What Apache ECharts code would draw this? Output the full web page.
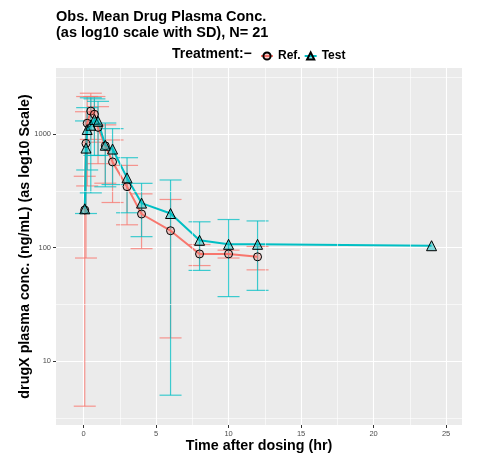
<!DOCTYPE html>
<html>
<head>
<meta charset="utf-8">
<script src="https://cdn.jsdelivr.net/npm/echarts@6/dist/echarts.min.js"></script>
<style>
  html, body { margin: 0; padding: 0; background: #fff; }
  #main { width: 488px; height: 462px; }
</style>
</head>
<body>
<div id="main"></div>
<script>
// sampling times (hr)
const times = [0.083, 0.167, 0.25, 0.5, 0.75, 1, 1.5, 2, 3, 4, 6, 8, 10, 12, 24];
// Ref. mean / SD (ng/mL)
const refMean = [215, 830, 1250, 1600, 1500, 1150, 790, 570, 345, 198, 141, 88, 88, 83, null];
const refSD = [211, 749, 900, 700, 650, 600, 420, 320, 186, 100, 125, 18.5, 7, 19.3, null];
// Test mean / SD (ng/mL)
const testMean = [220, 755, 1100, 1200, 1350, 1300, 800, 740, 412, 247, 200, 116, 107, 107, 104];
const testSD = [null, 555, 616, 896, 700, 650, 456, 380, 209, 122, 195, 53, 70, 65, null];

const xTicks = [0, 5, 10, 15, 20, 25];
const yTicks = [10, 100, 1000];
const xMinor = [2.5, 7.5, 12.5, 17.5, 22.5];
const yMinor = [3.162, 31.62, 316.2, 3162];

const FONT = "'Liberation Sans', Arial, sans-serif";
const RED = '#F8766D';
const TEAL = '#00BFC4';

function points(mean) {
  return times.map((t, i) => (mean[i] == null ? null : [t, mean[i]])).filter(Boolean);
}
// mean +/- SD, rows with a non-positive lower end are dropped (log scale)
function bars(mean, sd) {
  return times
    .map((t, i) => (mean[i] == null || sd[i] == null || mean[i] - sd[i] <= 0 ? null : [t, mean[i] - sd[i], mean[i] + sd[i]]))
    .filter(Boolean);
}
function errRender(color) {
  return function (params, api) {
    const hi = api.coord([api.value(0), api.value(2)]);
    const lo = api.coord([api.value(0), api.value(1)]);
    const w = 11;
    const style = { stroke: color, lineWidth: 1.2, opacity: 0.75 };
    return {
      type: 'group',
      children: [
        { type: 'line', shape: { x1: hi[0], y1: hi[1], x2: lo[0], y2: lo[1] }, style: style },
        { type: 'line', shape: { x1: hi[0] - w, y1: hi[1], x2: hi[0] + w, y2: hi[1] }, style: style },
        { type: 'line', shape: { x1: lo[0] - w, y1: lo[1], x2: lo[0] + w, y2: lo[1] }, style: style }
      ]
    };
  };
}

const chart = echarts.init(document.getElementById('main'));

const option = {
  animation: false,
  textStyle: { fontFamily: FONT },
  title: {
    text: 'Obs. Mean Drug Plasma Conc.\n(as log10 scale with SD), N= 21',
    left: 51,
    top: 4,
    textStyle: { fontSize: 14.5, fontWeight: 'bold', lineHeight: 16, color: '#000', fontFamily: FONT }
  },
  graphic: [
    {
      type: 'text',
      left: 172,
      top: 47,
      style: { text: 'Treatment:\u2212', font: 'bold 14px ' + FONT, fill: '#000' }
    }
  ],
  legend: {
    data: ['Ref.', 'Test'],
    left: 255,
    top: 45,
    itemWidth: 12,
    itemHeight: 9,
    itemGap: 3,
    textStyle: { fontSize: 12, fontWeight: 'bold', color: '#000', fontFamily: FONT }
  },
  grid: {
    left: 56,
    right: 26,
    top: 68,
    bottom: 37,
    show: true,
    backgroundColor: '#EBEBEB',
    borderWidth: 0
  },
  xAxis: {
    type: 'value',
    min: -1.9,
    max: 26.1,
    axisLine: { show: false, onZero: false },
    axisTick: { show: true, length: 3, lineStyle: { color: '#333' }, customValues: xTicks },
    axisLabel: {
      customValues: xTicks,
      fontSize: 7.5,
      color: '#4D4D4D',
      margin: 5
    },
    splitLine: { lineStyle: { color: '#fff', width: 1.1 } },
    name: 'Time after dosing (hr)',
    nameLocation: 'middle',
    nameGap: 14,
    nameMoveOverlap: false,
    nameTextStyle: { fontSize: 14.3, fontWeight: 'bold', color: '#000', fontFamily: FONT, verticalAlign: 'top' }
  },
  yAxis: {
    type: 'log',
    logBase: 10,
    min: 2.73,
    max: 3837,
    axisLine: { show: false, onZero: false },
    axisTick: { show: true, length: 3, lineStyle: { color: '#333' }, customValues: yTicks },
    axisLabel: {
      customValues: yTicks,
      fontSize: 7.5,
      color: '#4D4D4D',
      margin: 5,
      formatter: (v) => String(Math.round(v))
    },
    splitLine: { lineStyle: { color: '#fff', width: 1.1 } },
    name: 'drugX plasma conc. (ng/mL) (as log10 Scale)',
    nameLocation: 'middle',
    nameGap: 24,
    nameMoveOverlap: false,
    nameTextStyle: { fontSize: 14.3, fontWeight: 'bold', color: '#000', fontFamily: FONT }
  },
  series: [
    {
      // minor grid lines
      type: 'line',
      data: [],
      z: 1,
      silent: true,
      markLine: {
        silent: true,
        symbol: 'none',
        label: { show: false },
        lineStyle: { color: '#fff', width: 0.6, type: 'solid' },
        data: yMinor.map((v) => ({ yAxis: v })).concat(xMinor.map((v) => ({ xAxis: v })))
      }
    },
    {
      name: 'Ref. SD',
      type: 'custom',
      renderItem: errRender(RED),
      data: bars(refMean, refSD),
      encode: { x: 0, y: [1, 2] },
      silent: true,
      z: 2
    },
    {
      name: 'Test SD',
      type: 'custom',
      renderItem: errRender(TEAL),
      data: bars(testMean, testSD),
      encode: { x: 0, y: [1, 2] },
      silent: true,
      z: 2
    },
    {
      name: 'Ref.',
      type: 'line',
      data: points(refMean),
      symbol: 'circle',
      symbolSize: 8,
      lineStyle: { color: RED, width: 2 },
      itemStyle: { color: 'rgba(248,118,109,0.35)', borderColor: '#000', borderWidth: 1 },
      z: 3
    },
    {
      name: 'Test',
      type: 'line',
      data: points(testMean),
      symbol: 'triangle',
      symbolSize: 10,
      lineStyle: { color: TEAL, width: 2 },
      itemStyle: { color: 'rgba(0,191,196,0.45)', borderColor: '#000', borderWidth: 1 },
      z: 3
    }
  ]
};

chart.setOption(option);
</script>
</body>
</html>
